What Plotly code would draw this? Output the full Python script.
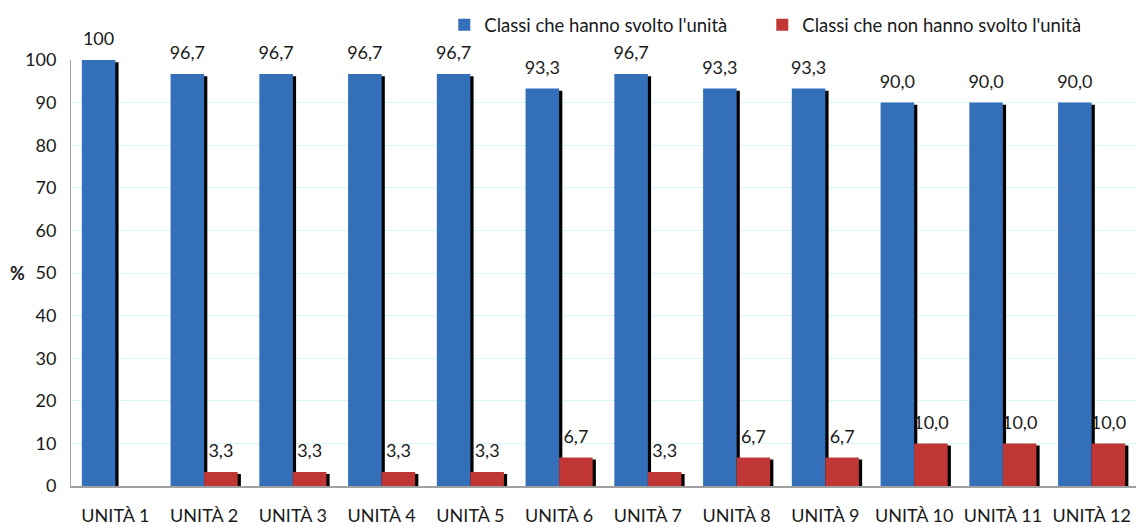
import plotly.graph_objects as go

categories = ["UNITÀ 1", "UNITÀ 2", "UNITÀ 3", "UNITÀ 4", "UNITÀ 5", "UNITÀ 6",
              "UNITÀ 7", "UNITÀ 8", "UNITÀ 9", "UNITÀ 10", "UNITÀ 11", "UNITÀ 12"]
svolto = [100, 96.7, 96.7, 96.7, 96.7, 93.3, 96.7, 93.3, 93.3, 90.0, 90.0, 90.0]
non_svolto = [0, 3.3, 3.3, 3.3, 3.3, 6.7, 3.3, 6.7, 6.7, 10.0, 10.0, 10.0]
svolto_labels = ["100", "96,7", "96,7", "96,7", "96,7", "93,3", "96,7", "93,3", "93,3", "90,0", "90,0", "90,0"]
non_svolto_labels = ["", "3,3", "3,3", "3,3", "3,3", "6,7", "3,3", "6,7", "6,7", "10,0", "10,0", "10,0"]
yticks = [0, 10, 20, 30, 40, 50, 60, 70, 80, 90, 100]

FONT = "Lato"
BW = 0.378
SH = 0.036

x = list(range(len(categories)))
fig = go.Figure()

# shadows
fig.add_trace(go.Bar(x=x, y=[v - 0.5 for v in svolto], width=BW, offset=-BW + SH,
                     marker=dict(color="black", line_width=0), showlegend=False, hoverinfo="skip"))
fig.add_trace(go.Bar(x=x, y=[max(v - 0.5, 0) for v in non_svolto], width=BW, offset=SH,
                     marker=dict(color="black", line_width=0), showlegend=False, hoverinfo="skip"))

fig.add_trace(go.Bar(x=x, y=svolto, width=BW, offset=-BW, name="Classi che hanno svolto l'unità",
                     marker=dict(color="#3470ba", line_width=0), hoverinfo="y"))
fig.add_trace(go.Bar(x=x, y=non_svolto, width=BW, offset=0, name="Classi che non hanno svolto l'unità",
                     marker=dict(color="#c03634", line_width=0), hoverinfo="y"))

# value labels
fig.add_trace(go.Scatter(x=[i - BW / 2 for i in x], y=svolto, mode="markers+text",
                         text=svolto_labels, textposition="top center",
                         marker=dict(size=15, opacity=0), cliponaxis=False,
                         textfont=dict(family=FONT, size=18, color="#1a1a1a"),
                         showlegend=False, hoverinfo="skip"))
fig.add_trace(go.Scatter(x=[i + BW / 2 for i, t in zip(x, non_svolto_labels) if t],
                         y=[v for v, t in zip(non_svolto, non_svolto_labels) if t],
                         mode="markers+text",
                         text=[t for t in non_svolto_labels if t], textposition="top center",
                         marker=dict(size=15, opacity=0), cliponaxis=False,
                         textfont=dict(family=FONT, size=18, color="#1a1a1a"),
                         showlegend=False, hoverinfo="skip"))

fig.add_annotation(text="<b>%</b>", xref="paper", yref="paper", x=-0.0498, y=0.5,
                   xanchor="center", yanchor="middle",
                   showarrow=False, font=dict(family=FONT, size=18, color="#1a1a1a"))

fig.update_layout(
    width=1139, height=525,
    barmode="overlay",
    plot_bgcolor="white", paper_bgcolor="white",
    margin=dict(l=71, r=3, t=60, b=39, autoexpand=False),
    font=dict(family=FONT, size=18, color="#1a1a1a"),
    legend=dict(orientation="h", x=0.3505, y=0.952, xref="paper", yref="container",
                xanchor="left", yanchor="middle",
                font=dict(family=FONT, size=18.5), itemwidth=30, entrywidth=273,
                traceorder="normal"),
    showlegend=True,
)
fig.update_xaxes(tickmode="array", tickvals=x, ticktext=categories, range=[-0.5, 11.5],
                 showline=True, linecolor="#a0a0a0", linewidth=2, ticks="",
                 ticklabelstandoff=12,
                 showgrid=False, tickfont=dict(family=FONT, size=18))
fig.update_yaxes(range=[0, 100], tickvals=yticks, showline=True, linecolor="#a0a0a0", linewidth=1,
                 showgrid=True, gridcolor="#d8f6f6", gridwidth=1, zeroline=False,
                 tickfont=dict(family=FONT, size=18), ticks="", ticklabelstandoff=10)

fig.write_html("out.html", config={"displayModeBar": False},
               post_script="document.body.style.margin='0px';document.body.style.overflow='hidden';")
